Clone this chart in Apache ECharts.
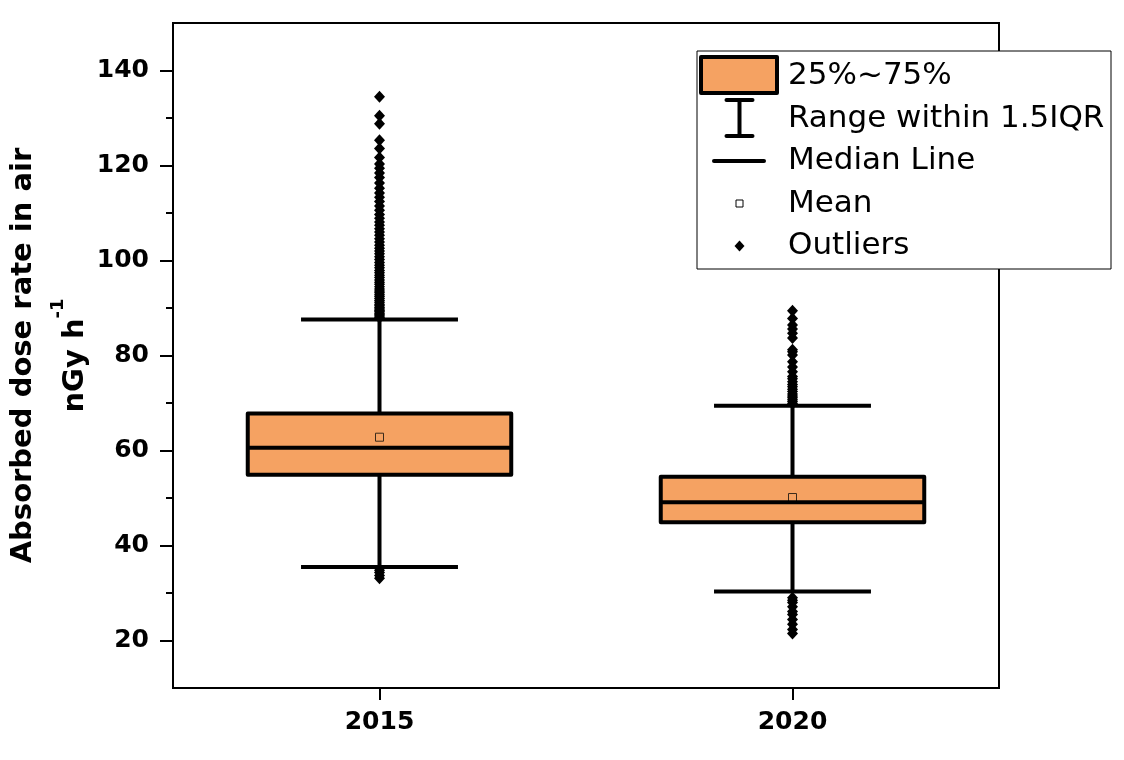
<!DOCTYPE html>
<html>
<head>
<meta charset="utf-8">
<script src="https://cdn.jsdelivr.net/npm/echarts@6/dist/echarts.min.js"></script>
<style>
  html, body { margin: 0; padding: 0; background: #fff; }
  #chart { width: 1124px; height: 760px; }
</style>
</head>
<body>
<div id="chart"></div>
<script>
// box statistics
const categories = ['2015', '2020']
const q1 = [54.9, 44.9]
const q3 = [67.8, 54.5]
const medians = [60.6, 49.1]
const means = [62.8, 50.1]
const whiskerLow = [35.5, 30.3]
const whiskerHigh = [87.6, 69.4]

// outliers (approximate, read from the dense diamond columns)
const outliers2015 = [
  88.0, 88.3, 88.6, 88.9, 89.2, 89.5, 89.8, 90.1, 90.5, 90.8, 91.2, 91.6,
  92.0, 92.4, 92.8, 93.2, 93.6, 94.0, 94.5, 95.0, 95.4, 95.9, 96.4, 96.9,
  97.4, 97.9, 98.5, 99.0, 99.6, 100.2, 100.8, 101.4, 102.0, 102.6, 103.2,
  103.9, 104.6, 105.3, 106.0, 106.7, 107.4, 108.1, 108.9, 109.7, 110.6,
  111.5, 112.4, 113.3, 114.2, 115.2, 116.3, 117.5, 118.4, 119.4, 120.3,
  121.7, 123.6, 125.3, 128.8, 130.5, 134.5,
  34.8, 34.3, 33.7, 33.1
]
const outliers2020 = [
  69.9, 70.3, 70.7, 71.1, 71.5, 71.9, 72.4, 72.9, 73.4, 73.9, 74.5, 75.1,
  75.6, 76.6, 77.6, 78.7, 80.1, 80.8, 81.2, 83.7, 84.7, 85.6, 86.4, 87.8, 89.4,
  29.0, 28.5, 28.0, 27.1, 26.1, 25.5, 24.4, 23.4, 22.3, 21.5
]

const majorTicks = [20, 40, 60, 80, 100, 120, 140]
const minorTicks = [30, 50, 70, 90, 110, 130]

const legendLabels = ['25%~75%', 'Range within 1.5IQR', 'Median Line', 'Mean', 'Outliers']

const boxColor = '#F5A262'
const font = 'DejaVu Sans'

const chart = echarts.init(document.getElementById('chart'))

function renderBox (params, api) {
  const i = api.value(0)
  const band = api.size([1, 0])[0]
  const boxW = band * 0.638
  const capW = band * 0.38
  const pQ1 = api.coord([i, api.value(1)])
  const pQ3 = api.coord([i, api.value(2)])
  const pMed = api.coord([i, api.value(3)])
  const pMean = api.coord([i, api.value(4)])
  const pLow = api.coord([i, api.value(5)])
  const pHigh = api.coord([i, api.value(6)])
  const cx = pQ1[0]
  const lineStyle = { stroke: '#000', lineWidth: 4, lineCap: 'butt' }
  return {
    type: 'group',
    children: [
      { type: 'line', shape: { x1: cx, y1: pLow[1], x2: cx, y2: pHigh[1] }, style: lineStyle },
      { type: 'line', shape: { x1: cx - capW / 2, y1: pLow[1], x2: cx + capW / 2, y2: pLow[1] }, style: lineStyle },
      { type: 'line', shape: { x1: cx - capW / 2, y1: pHigh[1], x2: cx + capW / 2, y2: pHigh[1] }, style: lineStyle },
      {
        type: 'rect',
        shape: { x: cx - boxW / 2, y: pQ3[1], width: boxW, height: pQ1[1] - pQ3[1] },
        style: { fill: boxColor, stroke: '#000', lineWidth: 4, lineJoin: 'round' }
      },
      {
        type: 'rect',
        shape: { x: pMean[0] - 4, y: pMean[1] - 4, width: 8, height: 8 },
        style: { fill: 'none', stroke: '#3a2a1a', lineWidth: 1 }
      },
      { type: 'line', shape: { x1: cx - boxW / 2, y1: pMed[1], x2: cx + boxW / 2, y2: pMed[1] }, style: lineStyle }
    ]
  }
}

// hand drawn legend, same look as the original
const lx = 739.5
const legendRows = [76, 119, 161, 204, 246]
const legendGraphics = [
  { type: 'rect', shape: { x: 697, y: 51, width: 414, height: 218 }, style: { fill: '#fff', stroke: '#000', lineWidth: 1 } },
  { type: 'rect', shape: { x: 701, y: 57, width: 76, height: 36 }, style: { fill: boxColor, stroke: '#000', lineWidth: 4, lineJoin: 'round' } },
  { type: 'line', shape: { x1: lx - 13, y1: 100, x2: lx + 13, y2: 100 }, style: { stroke: '#000', lineWidth: 4, lineCap: 'round' } },
  { type: 'line', shape: { x1: lx, y1: 100, x2: lx, y2: 136 }, style: { stroke: '#000', lineWidth: 4 } },
  { type: 'line', shape: { x1: lx - 13, y1: 136, x2: lx + 13, y2: 136 }, style: { stroke: '#000', lineWidth: 4, lineCap: 'round' } },
  { type: 'line', shape: { x1: 714, y1: 161, x2: 764, y2: 161 }, style: { stroke: '#000', lineWidth: 4, lineCap: 'round' } },
  { type: 'rect', shape: { x: lx - 3.5, y: 200, width: 7, height: 7 }, style: { fill: '#fff', stroke: '#000', lineWidth: 1 } },
  { type: 'polygon', shape: { points: [[lx, 240.5], [lx + 5, 246], [lx, 251.5], [lx - 5, 246]] }, style: { fill: '#000' } }
]
legendLabels.forEach((t, k) => {
  legendGraphics.push({
    type: 'text',
    x: 788,
    y: legendRows[k],
    style: { text: t, fontSize: 31, fontFamily: font, fill: '#000', verticalAlign: 'middle', align: 'left' }
  })
})

const option = {
  animation: false,
  backgroundColor: '#fff',
  grid: {
    left: 173,
    right: 125,
    top: 23,
    bottom: 72,
    outerBoundsMode: 'none',
    containLabel: false,
    show: true,
    borderColor: '#000',
    borderWidth: 2
  },
  xAxis: {
    type: 'category',
    data: categories,
    axisLine: { show: true, lineStyle: { color: '#000', width: 2 } },
    axisTick: { show: true, alignWithLabel: true, interval: 0, length: 12, lineStyle: { color: '#000', width: 2 } },
    axisLabel: { fontSize: 25, fontWeight: 'bold', fontFamily: font, color: '#000', margin: 22 },
    splitLine: { show: false }
  },
  yAxis: [
    {
      type: 'value',
      min: 10,
      max: 150,
      name: '{a|Absorbed dose rate in air}\n{a|nGy h}{s|-1}',
      nameLocation: 'middle',
      nameRotate: 90,
      nameGap: 72,
      nameMoveOverlap: false,
      nameTextStyle: {
        rich: {
          a: { fontSize: 29, fontWeight: 'bold', fontFamily: font, color: '#000', lineHeight: 52 },
          s: { fontSize: 18, fontWeight: 'bold', fontFamily: font, color: '#000', lineHeight: 30, verticalAlign: 'top' }
        }
      },
      axisLine: { show: true, lineStyle: { color: '#000', width: 2 } },
      axisTick: { show: true, length: 13, customValues: majorTicks, lineStyle: { color: '#000', width: 2 } },
      axisLabel: { customValues: majorTicks, fontSize: 25, fontWeight: 'bold', fontFamily: font, color: '#000', margin: 24 },
      splitLine: { show: false }
    },
    {
      type: 'value',
      min: 10,
      max: 150,
      position: 'left',
      axisLine: { show: true, lineStyle: { color: '#000', width: 2 } },
      axisTick: { show: true, length: 7, customValues: minorTicks, lineStyle: { color: '#000', width: 2 } },
      axisLabel: { show: false },
      splitLine: { show: false }
    }
  ],
  series: [
    {
      type: 'custom',
      name: 'box',
      renderItem: renderBox,
      encode: { x: 0, y: [1, 2, 3, 4, 5, 6] },
      data: categories.map((c, i) => [i, q1[i], q3[i], medians[i], means[i], whiskerLow[i], whiskerHigh[i]]),
      z: 2
    },
    {
      type: 'scatter',
      name: 'Outliers 2015',
      symbol: 'diamond',
      symbolSize: [11, 12],
      itemStyle: { color: '#000', opacity: 1 },
      data: outliers2015.map(v => [categories[0], v]),
      z: 3
    },
    {
      type: 'scatter',
      name: 'Outliers 2020',
      symbol: 'diamond',
      symbolSize: [11, 12],
      itemStyle: { color: '#000', opacity: 1 },
      data: outliers2020.map(v => [categories[1], v]),
      z: 3
    }
  ],
  graphic: { elements: [{ type: 'group', z: 100, children: legendGraphics }] }
}

chart.setOption(option)
</script>
</body>
</html>
